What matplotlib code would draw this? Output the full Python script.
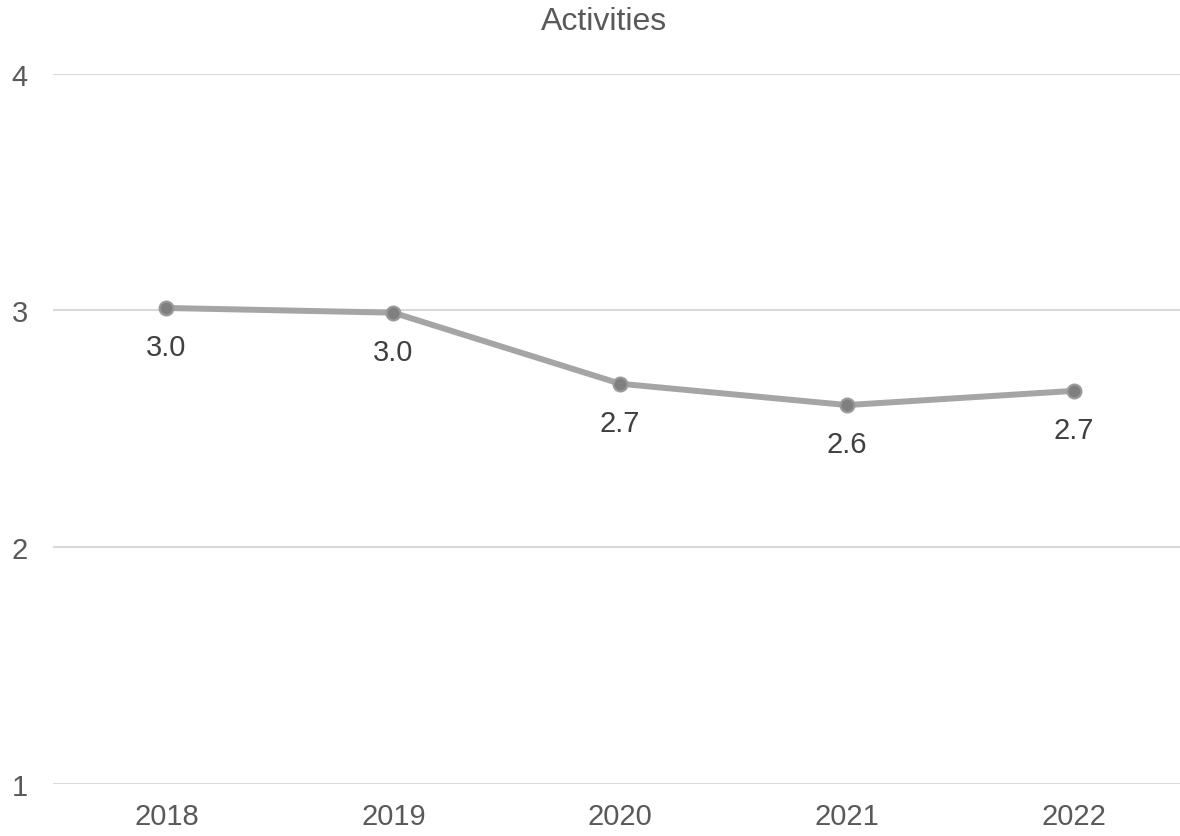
import matplotlib
matplotlib.use("Agg")
import matplotlib.pyplot as plt

years = ["2018", "2019", "2020", "2021", "2022"]
values = [3.01, 2.99, 2.69, 2.60, 2.66]
yticks = [1, 2, 3, 4]

plt.rcParams['font.family'] = ['Liberation Sans', 'DejaVu Sans']
txt = '#595959'

fig = plt.figure(figsize=(11.8, 8.37), dpi=100)
ax = fig.add_axes([53/1180, 52/837, (1180-53)/1180, (785-74.5)/837])

x = list(range(len(years)))
ax.plot(x, values, color='#A5A5A5', lw=4.3, marker='o', markersize=10,
        markerfacecolor='#7F7F7F', markeredgecolor='#9A9A9A', markeredgewidth=1.5,
        solid_capstyle='round', zorder=3)
for xi, v in zip(x, values):
    ax.annotate(f"{v:.1f}", (xi, v), xytext=(0, -28), textcoords='offset points',
                ha='center', va='center', fontsize=21, color='#404040')

ax.set_xlim(-0.5, 4.467)
ax.set_ylim(1, 4)
ax.set_yticks(yticks)
ax.set_xticks(x)
ax.set_xticklabels(years)
ax.grid(axis='y', color='#D9D9D9', lw=1.5)
ax.set_axisbelow(True)
for s in ax.spines.values():
    s.set_visible(False)
ax.tick_params(axis='both', length=0, labelsize=21, colors=txt)
ax.tick_params(axis='y', pad=18)
ax.tick_params(axis='x', pad=13)

fig.text(604/1180, 1 - 22/837, "Activities", ha='center', va='center', fontsize=23, color=txt)

fig.savefig("out.png", dpi=100)
